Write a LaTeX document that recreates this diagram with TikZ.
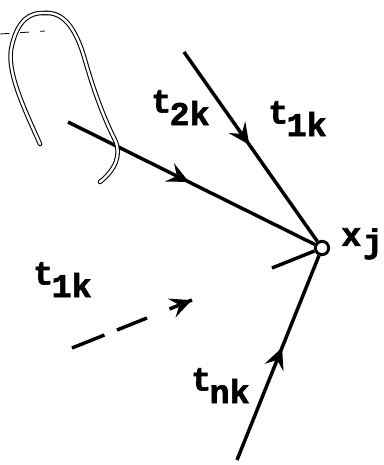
\documentclass[tikz,border=0pt]{standalone}
\usepackage{fontspec}
\setmonofont[FakeBold=2]{Liberation Mono}
\usetikzlibrary{arrows.meta,decorations.markings,calc}
\newcommand{\lbl}[3][-0.38em]{\ttfamily\bfseries #2\kern-0.05em\raisebox{#1}{#3}}
\begin{document}
\begin{tikzpicture}[x=0.75pt,y=-0.75pt,
  edge/.style={line width=2.6pt},
  midarrow/.style={postaction={decorate,decoration={markings,
    mark=at position #1 with {\arrow{Stealth[length=16pt,width=15pt,inset=6pt]}}}}},
  lab/.style={inner sep=0pt,font=\fontsize{25}{25}\selectfont},
  vert/.style={circle,draw,line width=2.2pt,minimum size=10pt,inner sep=0pt,fill=white}]
\useasboundingbox (0,0) rectangle (384,465);
\node[vert] (J) at (322,248) {};
\coordinate (A) at (68,122);
\coordinate (B) at (184,52);
\coordinate (C) at (72,348);
\coordinate (D) at (237,460);
% solid edges
\draw[edge,midarrow=0.49] (A) -- (J);
\draw[edge,midarrow=0.49] (B) -- (J);
\draw[edge,midarrow=0.55] (D) -- (J);
% dashed edge (irregular dashes)
\draw[edge] (C) -- ($(C)!0.13!(J)$);
\draw[edge] ($(C)!0.18!(J)$) -- ($(C)!0.30!(J)$);
\draw[edge,midarrow=0.99] ($(C)!0.39!(J)$) -- ($(C)!0.48!(J)$);
\draw[edge] ($(C)!0.80!(J)$) -- (J);
% labels
\node[lab,anchor=north west] (t2k) at (151,90) {\lbl{t}{2k}};
\node[lab,anchor=north west] (t1ka) at (268,101) {\lbl{t}{1k}};
\node[lab,anchor=north west] (xj) at (341,228) {\ttfamily\bfseries x\kern0.05em\raisebox{-0.2em}{j}};
\node[lab,anchor=north west] (t1kb) at (33,262) {\lbl{t}{1k}};
\node[lab,anchor=north west] (tnk) at (191,368) {\lbl{t}{nk}};
% hand-drawn loop (wire)
\draw[line width=0.8pt,double,double distance=1.8pt,line cap=round]
  (40,144) .. controls (25,110) and (5,70) .. (12,45)
  .. controls (18,20) and (30,12) .. (45,13)
  .. controls (62,12) and (75,25) .. (85,60)
  .. controls (95,95) and (105,120) .. (115,140)
  .. controls (122,155) and (115,170) .. (100,182);
\draw[line width=0.6pt,dashed,dash pattern=on 7pt off 8pt] (0,34) -- (45,31);
\end{tikzpicture}
\end{document}
